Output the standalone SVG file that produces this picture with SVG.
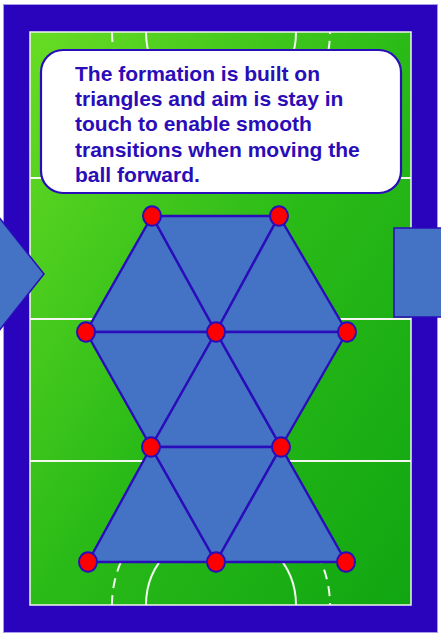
<svg xmlns="http://www.w3.org/2000/svg" width="441" height="634" viewBox="0 0 441 634">
<defs>
<linearGradient id="grass" x1="0" y1="0" x2="1" y2="1">
<stop offset="0" stop-color="#68dc24"/>
<stop offset="0.5" stop-color="#2bbb18"/>
<stop offset="1" stop-color="#10a612"/>
</linearGradient>
<style>
.line{fill:none;stroke:#f2f8ee;stroke-width:2}
.dash{fill:none;stroke:#f2f8ee;stroke-width:2;stroke-dasharray:10 7}
.tri{fill:#4472c4;stroke:#2a0dba;stroke-width:2.4;stroke-linejoin:round}
.node{fill:#ff0000;stroke:#2a0dba;stroke-width:2}
.txt{font-family:"Liberation Sans",Arial,sans-serif;font-weight:bold;font-size:21px;fill:#2a0db8}
.arrow{fill:#4472c4;stroke:#2a0dba;stroke-width:1.5}
</style>
</defs>
<rect id="background" x="0" y="0" width="441" height="634" fill="#ffffff"/>
<rect id="frame" x="3.5" y="4.5" width="434" height="628" fill="#2a03bd" stroke="#a59be6" stroke-width="1"/>
<g id="pitch">
<rect x="30" y="32" width="381" height="573" fill="url(#grass)" stroke="#eef6ea" stroke-width="1.5"/>
<line class="line" x1="30" y1="178" x2="411" y2="178"/>
<line class="line" x1="30" y1="319" x2="411" y2="319"/>
<line class="line" x1="30" y1="461" x2="411" y2="461"/>
<path class="line" d="M146,32 A75,75 0 0 0 296,32"/>
<path class="dash" d="M112,32 A109,109 0 0 0 330,32"/>
<path class="line" d="M146,605 A75,75 0 0 1 296,605"/>
<path class="dash" d="M112,605 A109,109 0 0 1 330,605"/>
</g>
<g id="textbox">
<rect x="41" y="50" width="360" height="143" rx="22" ry="22" fill="#ffffff" stroke="#2a0dba" stroke-width="2.2"/>
<text class="txt" x="75" y="81">The formation is built on</text>
<text class="txt" x="75" y="106">triangles and aim is stay in</text>
<text class="txt" x="75" y="131">touch to enable smooth</text>
<text class="txt" x="75" y="157">transitions when moving the</text>
<text class="txt" x="75" y="182">ball forward.</text>
</g>
<g id="arrow-left">
<polygon class="arrow" points="-6,211 44,274 -6,337"/>
</g>
<g id="arrow-right">
<rect class="arrow" x="394" y="228" width="60" height="89"/>
</g>
<g id="connectors">
<polygon class="tri" points="152,216 86,332 216,332"/>
<polygon class="tri" points="152,216 279,216 216,332"/>
<polygon class="tri" points="279,216 216,332 347,332"/>
<polygon class="tri" points="86,332 216,332 151,447"/>
<polygon class="tri" points="216,332 151,447 281,447"/>
<polygon class="tri" points="216,332 347,332 281,447"/>
<polygon class="tri" points="151,447 88,562 216,562"/>
<polygon class="tri" points="151,447 281,447 216,562"/>
<polygon class="tri" points="281,447 216,562 346,562"/>
</g>
<g id="player-1"><ellipse class="node" cx="152" cy="216" rx="9" ry="9.7"/></g>
<g id="player-2"><ellipse class="node" cx="279" cy="216" rx="9" ry="9.7"/></g>
<g id="player-3"><ellipse class="node" cx="86" cy="332" rx="9" ry="9.7"/></g>
<g id="player-4"><ellipse class="node" cx="216" cy="332" rx="9" ry="9.7"/></g>
<g id="player-5"><ellipse class="node" cx="347" cy="332" rx="9" ry="9.7"/></g>
<g id="player-6"><ellipse class="node" cx="151" cy="447" rx="9" ry="9.7"/></g>
<g id="player-7"><ellipse class="node" cx="281" cy="447" rx="9" ry="9.7"/></g>
<g id="player-8"><ellipse class="node" cx="88" cy="562" rx="9" ry="9.7"/></g>
<g id="player-9"><ellipse class="node" cx="216" cy="562" rx="9" ry="9.7"/></g>
<g id="player-10"><ellipse class="node" cx="346" cy="562" rx="9" ry="9.7"/></g>
</svg>
